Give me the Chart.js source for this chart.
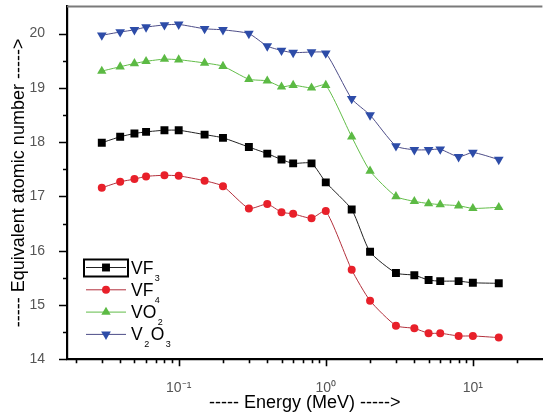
<!DOCTYPE html>
<html>
<head>
<meta charset="utf-8">
<script src="https://cdn.jsdelivr.net/npm/chart.js@4"></script>
<style>
  body { margin: 0; background: #fff; }
  #wrap { width: 548px; height: 415px; position: relative; }
</style>
</head>
<body>
<div id="wrap"><canvas id="chart"></canvas></div>
<script>
// Data (energy in MeV)
const energy = [0.03, 0.04, 0.05, 0.06, 0.08, 0.1, 0.15, 0.2, 0.3, 0.4, 0.5, 0.6, 0.8, 1, 1.5, 2, 3, 4, 5, 6, 8, 10, 15];
const vf3  = [17.99, 18.10, 18.16, 18.19, 18.22, 18.22, 18.14, 18.08, 17.91, 17.79, 17.68, 17.61, 17.61, 17.26, 16.76, 15.98, 15.59, 15.55, 15.46, 15.44, 15.44, 15.41, 15.40];
const vf4  = [17.16, 17.27, 17.32, 17.37, 17.39, 17.38, 17.29, 17.19, 16.78, 16.86, 16.71, 16.68, 16.60, 16.73, 15.65, 15.08, 14.62, 14.57, 14.48, 14.48, 14.43, 14.43, 14.40];
const vo2  = [19.31, 19.39, 19.45, 19.49, 19.53, 19.52, 19.46, 19.40, 19.16, 19.13, 19.02, 19.05, 19.00, 19.05, 18.10, 17.47, 17.00, 16.91, 16.87, 16.85, 16.83, 16.78, 16.80];
const v2o3 = [19.97, 20.03, 20.07, 20.12, 20.16, 20.17, 20.09, 20.07, 20.00, 19.77, 19.69, 19.65, 19.66, 19.64, 18.80, 18.50, 17.93, 17.86, 17.86, 17.87, 17.73, 17.81, 17.68];
const seriesNames = ["VF₃", "VF₄", "VO₂", "V₂O₃"];

const xDecades = [0.1, 1, 10];
const xTickLabels = ["10⁻¹", "10⁰", "10¹"];
const yTickLabels = [14, 15, 16, 17, 18, 19, 20];

const FONT = "'Liberation Sans', Arial, sans-serif";
Chart.defaults.font.family = FONT;

function pts(vals) { return energy.map((e, i) => ({ x: e, y: vals[i] })); }

// minor + major ticks for the log axis
const xTickValues = [];
[0.01, 0.1, 1, 10].forEach(d => {
  for (let k = 1; k <= 9; k++) {
    const v = +(d * k).toPrecision(3);
    if (v >= 0.02 && v <= 20) xTickValues.push(v);
  }
});

// outward ticks, top frame line and legend
const decor = {
  id: "decor",
  afterDraw(chart) {
    const { ctx, chartArea: a, scales: { x, y } } = chart;
    ctx.save();
    ctx.strokeStyle = "#000";
    ctx.lineWidth = 1.6;
    ctx.beginPath();
    x.ticks.forEach(t => {
      const px = Math.round(x.getPixelForValue(t.value)) + 0.5;
      const len = xDecades.includes(t.value) ? 7 : 4;
      ctx.moveTo(px, a.bottom);
      ctx.lineTo(px, a.bottom + len);
    });
    y.ticks.forEach(t => {
      const py = Math.round(y.getPixelForValue(t.value)) + 0.5;
      const len = Number.isInteger(t.value) ? 8 : 4;
      ctx.moveTo(a.left, py);
      ctx.lineTo(a.left - len, py);
    });
    ctx.stroke();

    // top frame
    ctx.strokeStyle = "#7a7a7a";
    ctx.lineWidth = 2;
    ctx.beginPath();
    ctx.moveTo(a.left, a.top);
    ctx.lineTo(a.right, a.top);
    ctx.stroke();

    // legend
    const lx = a.left + 19, ly = a.top + 261, rowH = 22.3;
    chart.data.datasets.forEach((ds, i) => {
      const cy = ly + i * rowH;
      ctx.strokeStyle = ds.borderColor;
      ctx.lineWidth = 1;
      ctx.beginPath();
      ctx.moveTo(lx, cy);
      ctx.lineTo(lx + 40, cy);
      ctx.stroke();
      ctx.fillStyle = ds.pointBackgroundColor;
      Chart.helpers.drawPoint(ctx, {
        pointStyle: ds.pointStyle, rotation: ds.pointRotation || 0,
        radius: ds.pointRadius, borderWidth: 0
      }, lx + 20, cy);

      // name with lowered subscripts
      let tx = lx + 45;
      ctx.fillStyle = "#000";
      ctx.textBaseline = "alphabetic";
      for (const ch of ds.label) {
        const code = ch.charCodeAt(0);
        if (code >= 0x2080 && code <= 0x2089) {
          ctx.font = "9px " + FONT;
          const s = String(code - 0x2080);
          ctx.fillText(s, tx + 1.5, cy + 13);
          tx += ctx.measureText(s).width + 3;
        } else {
          ctx.font = "17.5px " + FONT;
          ctx.fillText(ch, tx, cy + 6);
          tx += ctx.measureText(ch).width;
        }
      }
    });
    // frame around first legend entry
    ctx.strokeStyle = "#000";
    ctx.lineWidth = 2;
    ctx.strokeRect(lx - 2, ly - 8, 44, 17);
    ctx.restore();
  }
};

new Chart(document.getElementById("chart"), {
  type: "line",
  data: {
    datasets: [
      { label: seriesNames[0], data: pts(vf3), borderColor: "#222", pointBackgroundColor: "#000",
        pointStyle: "rect", pointRadius: 5.6 },
      { label: seriesNames[1], data: pts(vf4), borderColor: "#b3303c", pointBackgroundColor: "#e8202a",
        pointStyle: "circle", pointRadius: 4 },
      { label: seriesNames[2], data: pts(vo2), borderColor: "#62bd48", pointBackgroundColor: "#5cba44",
        pointStyle: "triangle", pointRadius: 5.4 },
      { label: seriesNames[3], data: pts(v2o3), borderColor: "#4d4d88", pointBackgroundColor: "#2d4ca8",
        pointStyle: "triangle", pointRotation: 180, pointRadius: 5.6 }
    ].map(d => Object.assign({
      borderWidth: 1, pointBorderWidth: 0, pointHoverRadius: d.pointRadius,
      backgroundColor: d.pointBackgroundColor, tension: 0.2, fill: false
    }, d))
  },
  options: {
    responsive: true,
    maintainAspectRatio: false,
    animation: false,
    events: [],
    layout: { padding: { top: 6.5, right: 0, left: 0, bottom: 0 } },
    plugins: { legend: { display: false }, tooltip: { enabled: false } },
    scales: {
      x: {
        type: "logarithmic",
        min: 0.0174,
        max: 29.7,
        grid: { display: false },
        border: { display: true, color: "#000", width: 2.2 },
        afterBuildTicks: s => { s.ticks = xTickValues.map(v => ({ value: v })); },
        afterFit: s => { s.height = 55.7; s.paddingLeft = 0; s.paddingRight = 0; },
        ticks: {
          autoSkip: false, maxRotation: 0, padding: 12,
          color: "#555", font: { size: 14 },
          callback: v => { const i = xDecades.indexOf(v); return i >= 0 ? xTickLabels[i] : ""; }
        },
        title: { display: true, text: "----- Energy (MeV) ----->", color: "#000",
                 font: { size: 18 }, padding: { top: 0, bottom: 1.2 } }
      },
      y: {
        min: 14,
        max: 20.5,
        grid: { display: false },
        border: { display: true, color: "#000", width: 2.2 },
        afterBuildTicks: s => {
          const t = [];
          yTickLabels.forEach(v => { t.push({ value: v }); if (v < 20) t.push({ value: v + 0.5 }); });
          s.ticks = t;
        },
        afterFit: s => { s.width = 67; s.paddingTop = 0; s.paddingBottom = 0; },
        ticks: {
          padding: 14, color: "#555", font: { size: 14 },
          callback: v => yTickLabels.includes(v) ? String(v) : ""
        },
        title: { display: true, text: "----- Equivalent atomic number ----->", color: "#000",
                 font: { size: 18 }, padding: { top: 8.2, bottom: 0 } }
      }
    }
  },
  plugins: [decor]
});
</script>
</body>
</html>
